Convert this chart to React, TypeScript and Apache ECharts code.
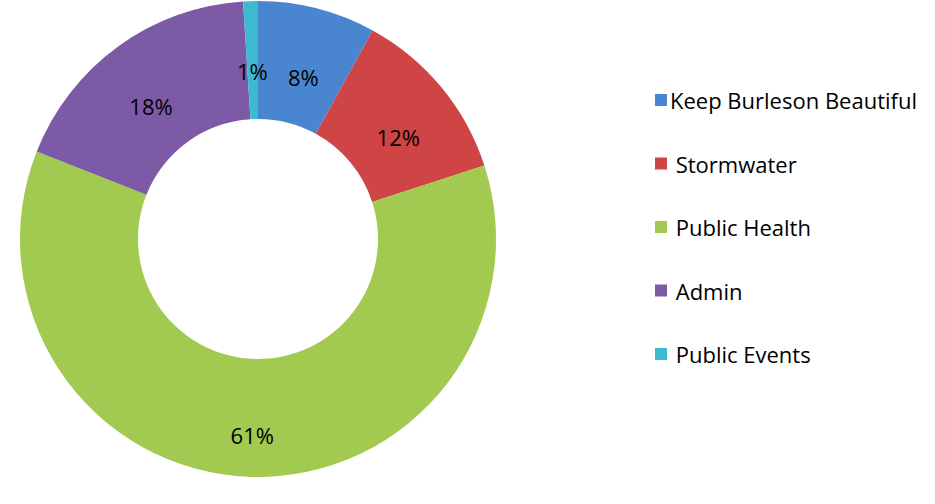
import React, { useEffect, useRef } from "react";
import * as echarts from "echarts";

const categories = ["Keep Burleson Beautiful", " Stormwater", " Public Health", " Admin", " Public Events"];
const values = [8, 12, 61, 18, 1];
const colors = ["#4a86cf", "#cf4545", "#a2c950", "#7d5aa6", "#3db9d0"];

export default function App() {
  const ref = useRef<HTMLDivElement>(null);
  useEffect(() => {
    const chart = echarts.init(ref.current!, null, { renderer: "svg" });
    chart.setOption({
      animation: false,
      color: colors,
      legend: {
        orient: "vertical",
        left: 650,
        top: 84,
        itemWidth: 12,
        itemHeight: 12,
        itemGap: 41.5,
        icon: "rect",
        textStyle: { fontFamily: "Open Sans", fontSize: 22, color: "#000", lineHeight: 22, padding: [0, 0, 0, -2] },
        data: categories,
      },
      series: [
        {
          type: "pie",
          center: [258, 239],
          radius: [120, 238],
          startAngle: 90,
          clockwise: true,
          avoidLabelOverlap: false,
          itemStyle: { borderWidth: 0 },
          label: {
            position: "inside",
            formatter: "{d}%",
            fontFamily: "Open Sans",
            fontSize: 22,
            color: "#000",
            offset: [0, 14],
          },
          labelLine: { show: false },
          data: categories.map((name, i) => ({ name, value: values[i] })),
        },
      ],
    });
    return () => chart.dispose();
  }, []);
  return <div ref={ref} style={{ position: "absolute", left: 0, top: 0, width: 935, height: 504 }} />;
}
